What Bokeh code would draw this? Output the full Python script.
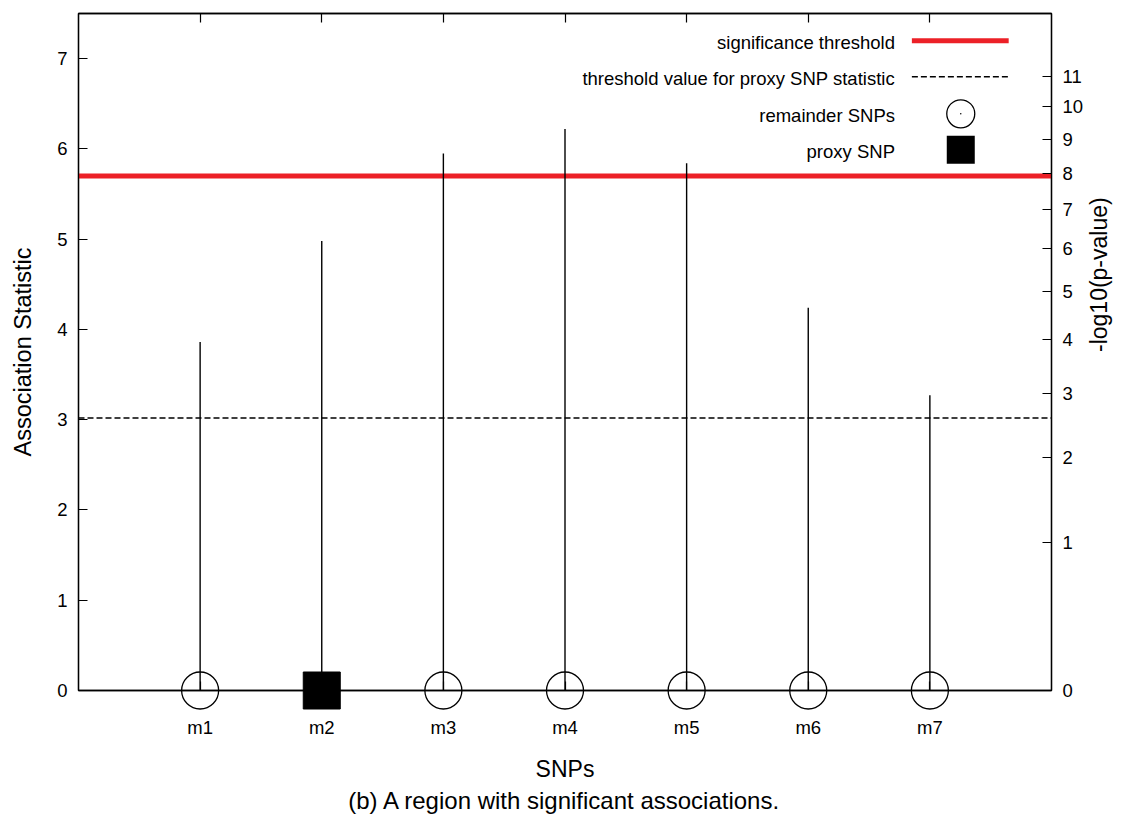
import math
from bokeh.plotting import figure
from bokeh.models import LinearAxis, FixedTicker, Span, Range1d, Title
from bokeh.core.properties import value
from bokeh.embed import file_html
from bokeh.resources import INLINE

# ---------------- data ----------------
snps = ["m1", "m2", "m3", "m4", "m5", "m6", "m7"]
snp_pos = [1, 2, 3, 4, 5, 6, 7]
assoc_stat = [3.86, 4.98, 5.95, 6.22, 5.84, 4.24, 3.27]
proxy_snp = "m2"
sig_threshold = 5.70
proxy_threshold = 3.02
left_ticks = [0, 1, 2, 3, 4, 5, 6, 7]
pval_labels = ["0", "1", "2", "3", "4", "5", "6", "7", "8", "9", "10", "11"]
pval_tick_stat = [0.0, 1.645, 2.576, 3.291, 3.891, 4.417, 4.892, 5.327,
                  5.731, 6.109, 6.467, 6.807]
legend_labels = ["significance threshold",
                 "threshold value for proxy SNP statistic",
                 "remainder SNPs", "proxy SNP"]
caption = "(b) A region with significant associations."

FONT = "Liberation Sans"
RED = "#ec2027"

p = figure(width=1128, height=814, x_range=Range1d(0, 8), y_range=Range1d(0, 7.5),
           output_backend="svg", toolbar_location=None,
           min_border_left=78, min_border_right=60, min_border_top=13,
           min_border_bottom=100,
           x_axis_label="SNPs", y_axis_label="Association Statistic")
p.grid.visible = False
p.background_fill_color = "white"
p.border_fill_color = "white"
p.outline_line_color = "black"
p.outline_line_width = 1.3


def style_axis(ax, size="18.5px"):
    ax.axis_line_color = "black"
    ax.axis_line_width = 1.3
    ax.major_tick_line_color = "black"
    ax.major_tick_line_width = 1.2
    ax.major_tick_in = 9
    ax.major_tick_out = 0
    ax.minor_tick_line_color = None
    ax.major_label_text_font = FONT
    ax.major_label_text_font_size = size
    ax.major_label_text_color = "black"
    ax.axis_label_text_font = FONT
    ax.axis_label_text_font_size = "23px"
    ax.axis_label_text_font_style = "normal"
    ax.axis_label_text_color = "black"


# bottom axis
xa = p.xaxis[0]
style_axis(xa)
xa.ticker = FixedTicker(ticks=snp_pos)
xa.major_label_overrides = {pos: name for pos, name in zip(snp_pos, snps)}
xa.major_label_standoff = 26
xa.axis_label_standoff = 15

# left axis
ya = p.yaxis[0]
style_axis(ya)
ya.ticker = FixedTicker(ticks=left_ticks)
ya.major_label_standoff = 11
ya.axis_label_standoff = 18
ya.axis_label_text_font_size = "23.5px"

# top mirror ticks
top = LinearAxis(ticker=FixedTicker(ticks=snp_pos))
style_axis(top)
top.major_label_text_font_size = "0px"
top.major_label_standoff = 0
p.add_layout(top, "above")

# right axis: -log10(p-value)
ra = LinearAxis(ticker=FixedTicker(ticks=pval_tick_stat), axis_label="-log10(p-value)")
style_axis(ra)
ra.major_label_overrides = {t: l for t, l in zip(pval_tick_stat, pval_labels)}
ra.major_label_standoff = 11
ra.axis_label_standoff = 13
try:
    ra.axis_label_orientation = math.pi / 2
except Exception:
    pass
p.add_layout(ra, "right")

# threshold lines
p.add_layout(Span(location=sig_threshold, dimension="width", line_color=RED,
                  line_width=5, level="underlay"))
p.add_layout(Span(location=proxy_threshold, dimension="width", line_color="black",
                  line_width=1.5, line_dash="6 3", level="underlay"))

# stems
p.segment(x0=snp_pos, y0=[0] * len(snp_pos), x1=snp_pos, y1=assoc_stat,
          line_color="black", line_width=1.4)

rem_x = [x for x, s in zip(snp_pos, snps) if s != proxy_snp]
prx_x = [x for x, s in zip(snp_pos, snps) if s == proxy_snp]
r1 = p.scatter(x=rem_x, y=[0] * len(rem_x), marker="circle", size=37,
               fill_color=None, line_color="black", line_width=1.3)
r2 = p.scatter(x=prx_x, y=[0] * len(prx_x), marker="square", size=37,
               fill_color="black", line_color="black")
r1.level = "overlay"
r2.level = "overlay"

# legend (top right, text right-aligned with sample to its right)
txt_x = 6.713
samp_x0, samp_x1, samp_xc = 6.852, 7.648, 7.254
rows_y = [7.197, 6.798, 6.389, 5.99]
p.text(x=[txt_x] * 4, y=[r - 0.02 for r in rows_y], text=legend_labels,
       text_font=value(FONT), text_font_size="18.5px", text_align="right",
       text_baseline="middle", text_color="black")
p.line(x=[samp_x0, samp_x1], y=[rows_y[0]] * 2, line_color=RED, line_width=5)
p.line(x=[samp_x0, samp_x1], y=[rows_y[1]] * 2, line_color="black",
       line_width=1.5, line_dash="6 3")
p.scatter(x=[samp_xc], y=[rows_y[2]], marker="circle", size=28, fill_color=None,
          line_color="black", line_width=1.3)
p.scatter(x=[samp_xc], y=[rows_y[2]], marker="circle", size=1.5,
          fill_color="black", line_color=None)
p.scatter(x=[samp_xc], y=[rows_y[3]], marker="square", size=28,
          fill_color="black", line_color=None)

# caption
p.add_layout(Title(text=caption, align="center", text_font=FONT,
                   text_font_size="24px", text_font_style="normal",
                   text_color="black", standoff=1), "below")

open("out.html", "w").write(file_html(p, INLINE))
